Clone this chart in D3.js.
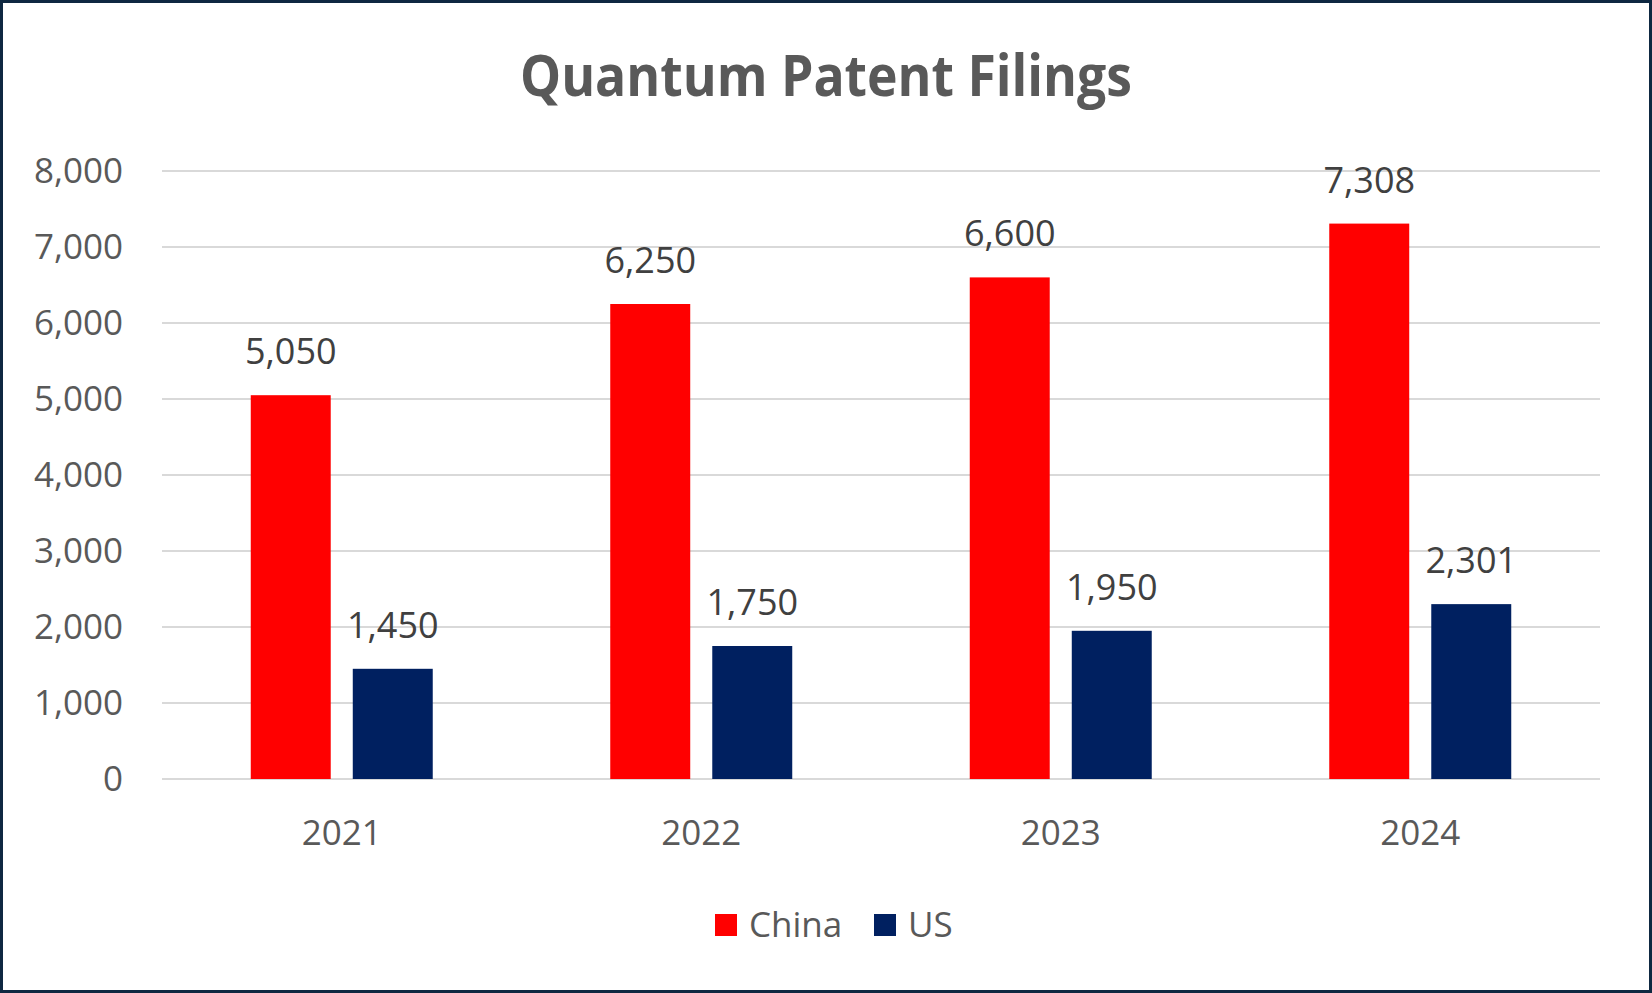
<!DOCTYPE html>
<html>
<head>
<meta charset="utf-8">
<script src="https://cdn.jsdelivr.net/npm/d3@7"></script>
<style>
  body { margin: 0; background: #fff; }
  svg { display: block; }
</style>
</head>
<body>
<div class="chart"></div>
<script>
// --- data ---
const years = ["2021", "2022", "2023", "2024"];
const seriesNames = ["China", "US"];
const chinaValues = [5050, 6250, 6600, 7308];
const usValues = [1450, 1750, 1950, 2301];
const yTicks = [0, 1000, 2000, 3000, 4000, 5000, 6000, 7000, 8000];

const colors = { China: "#ff0000", US: "#002060" };

const W = 1652, H = 993;
const svg = d3.select(".chart").append("svg")
  .attr("width", W)
  .attr("height", H);

// outer frame
svg.append("rect")
  .attr("x", 1.5).attr("y", 1.5)
  .attr("width", W - 3).attr("height", H - 3)
  .attr("fill", "#fff")
  .attr("stroke", "#0e2841")
  .attr("stroke-width", 3);

// title (narrow face in the original, so squeeze it to the same width)
svg.append("text")
  .attr("x", 826)
  .attr("y", 96)
  .attr("text-anchor", "middle")
  .attr("textLength", 612)
  .attr("lengthAdjust", "spacingAndGlyphs")
  .style("font-family", "'Open Sans', sans-serif")
  .style("font-weight", "bold")
  .style("font-size", "58px")
  .style("fill", "#595959")
  .text("Quantum Patent Filings");

// --- scales ---
const x0 = d3.scaleBand().domain(years).range([162, 1600]);
const x1 = d3.scaleBand().domain(seriesNames)
  .range([0, x0.bandwidth()])
  .paddingInner(0.216)
  .paddingOuter(0.87);
const y = d3.scaleLinear().domain([0, 8000]).range([779, 171]);

const font = "'Open Sans', sans-serif";

// gridlines
svg.append("g")
  .selectAll("line")
  .data(yTicks)
  .join("line")
  .attr("x1", 162).attr("x2", 1600)
  .attr("y1", d => y(d)).attr("y2", d => y(d))
  .attr("stroke", "#d9d9d9")
  .attr("stroke-width", 2);

// y tick labels
svg.append("g")
  .selectAll("text")
  .data(yTicks)
  .join("text")
  .attr("x", 123)
  .attr("y", d => y(d))
  .attr("dy", "0.35em")
  .attr("text-anchor", "end")
  .style("font-family", font)
  .style("font-size", "35px")
  .style("fill", "#595959")
  .text(d => d3.format(",")(d));

// x labels
svg.append("g")
  .selectAll("text")
  .data(years)
  .join("text")
  .attr("x", d => x0(d) + x0.bandwidth() / 2)
  .attr("y", 845)
  .attr("text-anchor", "middle")
  .style("font-family", font)
  .style("font-size", "35px")
  .style("fill", "#595959")
  .text(d => d);

// bars
const rows = years.map((yr, i) => ({
  year: yr,
  vals: [
    { key: "China", value: chinaValues[i] },
    { key: "US", value: usValues[i] }
  ]
}));

const groups = svg.append("g")
  .selectAll("g")
  .data(rows)
  .join("g")
  .attr("transform", d => `translate(${x0(d.year)},0)`);

groups.selectAll("rect")
  .data(d => d.vals)
  .join("rect")
  .attr("x", d => x1(d.key))
  .attr("y", d => y(d.value))
  .attr("width", x1.bandwidth())
  .attr("height", d => y(0) - y(d.value))
  .attr("fill", d => colors[d.key]);

// value labels
groups.selectAll("text")
  .data(d => d.vals)
  .join("text")
  .attr("x", d => x1(d.key) + x1.bandwidth() / 2)
  .attr("y", d => y(d.value) - 31)
  .attr("text-anchor", "middle")
  .style("font-family", font)
  .style("font-size", "36px")
  .style("fill", "#404040")
  .text(d => d3.format(",")(d.value));

// legend
const legendItems = [
  { key: "China", sx: 715, tx: 749 },
  { key: "US", sx: 874, tx: 908 }
];
const legend = svg.append("g");
legend.selectAll("rect")
  .data(legendItems)
  .join("rect")
  .attr("x", d => d.sx)
  .attr("y", 914)
  .attr("width", 22)
  .attr("height", 22)
  .attr("fill", d => colors[d.key]);
legend.selectAll("text")
  .data(legendItems)
  .join("text")
  .attr("x", d => d.tx)
  .attr("y", 937)
  .style("font-family", font)
  .style("font-size", "35px")
  .style("fill", "#595959")
  .text(d => d.key);
</script>
</body>
</html>
